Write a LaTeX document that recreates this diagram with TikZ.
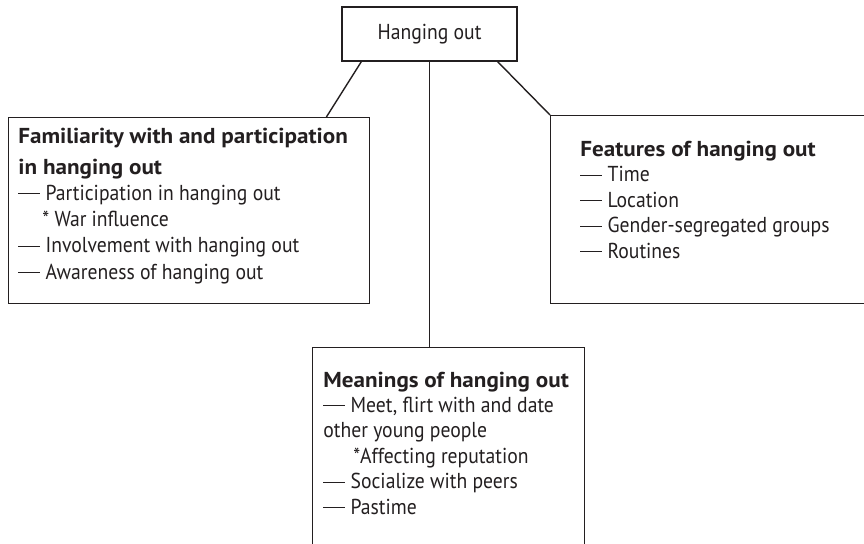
\documentclass[tikz,border=0pt]{standalone}
\usepackage{fontspec}
\setmainfont{PT Sans}[FakeStretch=0.91,BoldFeatures={FakeStretch=1.07}]
\usepackage{xcolor}
\usetikzlibrary{positioning}
\definecolor{ink}{HTML}{231F20}
\newcommand{\itemdash}{\rule[3pt]{11pt}{0.5pt}\ }

\begin{document}
\begin{tikzpicture}[x=0.5pt,y=-0.5pt,
    box/.style={draw=ink,line width=0.7pt,anchor=north west,inner sep=0pt},
    txt/.style={anchor=base west,inner sep=0pt,text=ink}]
  \useasboundingbox (0,0) rectangle (864,543);
  \clip (0,0) rectangle (864,543);
  % root
  \node[draw=ink,line width=0.7pt,minimum width=87.5pt,minimum height=27pt,text=ink,
        font=\fontsize{10.8}{12.5}\selectfont] (hang) at (429.5,34) {Hanging out};
  % the three boxes
  \node[box,minimum width=180.5pt,minimum height=93pt] (fam) at (8,117) {};
  \node[box,minimum width=165pt,minimum height=94pt] (feat) at (550,115) {};
  \node[box,minimum width=136pt,minimum height=106.5pt] (mean) at (312,347) {};
  % their texts
  \node[txt,font=\fontsize{10.8}{13.1}\selectfont]
    (famtxt) at ([xshift=5pt,yshift=-13pt]fam.north west) {%
    \begin{tabular}[t]{@{}l@{}}
      \bfseries Familiarity with and participation\\[2.5pt]
      \bfseries in hanging out\\
      \itemdash Participation in hanging out\\
      \hspace{12pt}* War influence\\
      \itemdash Involvement with hanging out\\
      \itemdash Awareness of hanging out
    \end{tabular}};
  \node[txt,font=\fontsize{10.8}{12.8}\selectfont]
    (feattxt) at ([xshift=15pt,yshift=-20.5pt]feat.north west) {%
    \begin{tabular}[t]{@{}l@{}}
      \bfseries Features of hanging out\\
      \itemdash Time\\
      \itemdash Location\\
      \itemdash Gender-segregated groups\\
      \itemdash Routines
    \end{tabular}};
  \node[txt,font=\fontsize{10.8}{12.7}\selectfont]
    (meantxt) at ([xshift=5.5pt,yshift=-20pt]mean.north west) {%
    \begin{tabular}[t]{@{}l@{}}
      \bfseries Meanings of hanging out\\
      \itemdash Meet, flirt with and date\\
      other young people\\
      \hspace{15pt}*Affecting reputation\\
      \itemdash Socialize with peers\\
      \itemdash Pastime
    \end{tabular}};
  % links
  \draw[ink,line width=0.7pt] ([xshift=10pt]hang.south west) -- ([xshift=-22pt]fam.north east);
  \draw[ink,line width=0.7pt] (hang.south) -- (hang.south |- mean.north);
  \draw[ink,line width=0.7pt] ([xshift=-10pt]hang.south east) -- (feat.north west);
\end{tikzpicture}
\end{document}
